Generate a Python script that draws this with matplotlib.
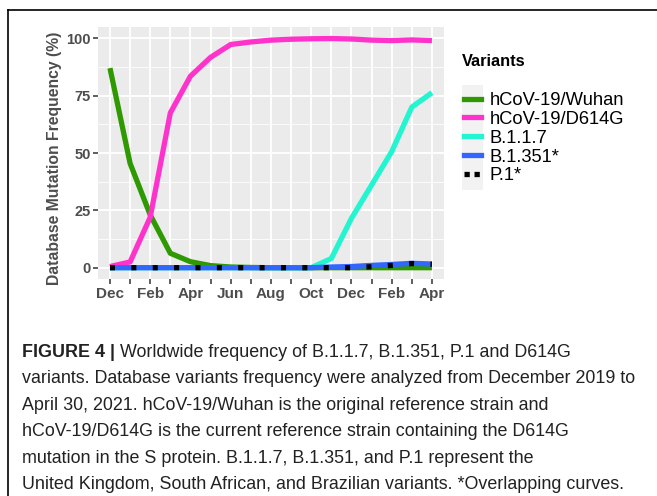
import matplotlib
matplotlib.use("Agg")
import matplotlib.pyplot as plt
from matplotlib.lines import Line2D
from matplotlib import font_manager as fm

months = ["Dec", "Jan", "Feb", "Mar", "Apr", "May", "Jun", "Jul", "Aug",
          "Sep", "Oct", "Nov", "Dec", "Jan", "Feb", "Mar", "Apr"]
tick_labels = [m if i % 2 == 0 else "" for i, m in enumerate(months)]
series_names = ["hCoV-19/Wuhan", "hCoV-19/D614G", "B.1.1.7", "B.1.351*", "P.1*"]
wuhan = [87, 45.5, 23, 6.3, 2.6, 0.9, 0.3, 0.1, 0, 0, 0, 0, 0, 0, 0, 0, 0]
d614g = [0.5, 2.5, 22, 67.5, 83.5, 91.7, 97.3, 98.4, 99.2, 99.6, 99.8, 99.9,
         99.7, 99.2, 99.0, 99.3, 99.0]
b117 = [0, 0, 0, 0, 0, 0, 0, 0, 0, 0, 0, 4, 21.5, 36, 50.6, 70, 76.3]
b1351 = [0, 0, 0, 0, 0, 0, 0, 0, 0, 0, 0, 0.3, 0.5, 1.0, 1.4, 1.9, 1.6]
p1 = [0, 0, 0, 0, 0, 0, 0, 0, 0, 0, 0, 0, 0, 0.4, 1.0, 1.8, 1.5]
y_ticks = [0, 25, 50, 75, 100]

colors = ["#2E9900", "#FF33CC", "#22F5CF", "#3366FF", "#000000"]

avail = {f.name for f in fm.fontManager.ttflist}
base = "Liberation Sans" if "Liberation Sans" in avail else "DejaVu Sans"
narrow = "Liberation Sans Narrow" if "Liberation Sans Narrow" in avail else base
plt.rcParams["font.family"] = [base, "DejaVu Sans"]

W, H = 657, 496
fig = plt.figure(figsize=(W / 100, H / 100), dpi=100)
ax = fig.add_axes([98.3 / W, 1 - 279 / H, (444 - 98.3) / W, (279 - 27.3) / H])
ax.set_facecolor("#EBEBEB")
for s in ax.spines.values():
    s.set_visible(False)

x = list(range(len(months)))
lw = 3.8
ax.plot(x, wuhan, color=colors[0], lw=lw, solid_capstyle="butt", zorder=3)
ax.plot(x, d614g, color=colors[1], lw=lw, solid_capstyle="butt", zorder=3)
ax.plot(x, b117, color=colors[2], lw=lw, solid_capstyle="butt", zorder=3)
ax.plot(x, b1351, color=colors[3], lw=lw, solid_capstyle="butt", zorder=3)
ax.plot(x, p1, color=colors[4], lw=lw, linestyle=(0, (0.95, 3.1)),
        dash_capstyle="butt", zorder=4)

ax.set_xlim(-0.58, 16.6)
ax.set_ylim(-4.93, 104.8)
ax.set_xticks(x)
ax.set_xticklabels(tick_labels, fontsize=11, fontweight="bold", color="#4D4D4D")
ax.set_yticks(y_ticks)
ax.set_yticklabels([str(v) for v in y_ticks], fontsize=10.5, fontweight="bold",
                   color="#4D4D4D")
ax.set_yticks([12.5, 37.5, 62.5, 87.5], minor=True)
ax.tick_params(axis="both", which="major", length=3.5, width=1.1, color="#333333",
               pad=2)
ax.tick_params(axis="y", which="minor", length=0)
ax.grid(True, which="major", color="white", lw=1.3, zorder=0)
ax.grid(True, which="minor", axis="y", color="white", lw=0.6, zorder=0)
ax.set_axisbelow(True)

fig.text(55 / W, 1 - 158 / H, "Database Mutation Frequency (%)", rotation=90,
         ha="center", va="center", fontsize=11.3, fontweight="bold",
         color="#4D4D4D")

handles = [Line2D([0], [0], color=colors[0], lw=lw),
           Line2D([0], [0], color=colors[1], lw=lw),
           Line2D([0], [0], color=colors[2], lw=lw),
           Line2D([0], [0], color=colors[3], lw=lw),
           Line2D([0], [0], color=colors[4], lw=lw, linestyle=(0, (1.0, 0.9)))]
fig.patches.append(plt.Rectangle((462 / W, 1 - 190 / H), 21 / W, 105 / H,
                                 transform=fig.transFigure, facecolor="#F2F2F2",
                                 edgecolor="none"))
leg = fig.legend(handles, series_names, loc="upper left",
                 bbox_to_anchor=(464 / W, 1 - 92 / H), frameon=False,
                 fontsize=13.2, handlelength=0.9, handletextpad=0.5,
                 labelspacing=0.1, borderaxespad=0, borderpad=0)
fig.text(462 / W, 1 - 62 / H, "Variants", ha="left", va="center", fontsize=11.8,
         fontweight="bold", color="black")

# frame
fig.add_artist(Line2D([8 / W, 1], [1 - 10 / H, 1 - 10 / H], color="black", lw=1.2,
                      transform=fig.transFigure))
fig.add_artist(Line2D([8 / W, 8 / W], [0, 1 - 10 / H], color="black", lw=1.2,
                      transform=fig.transFigure))

cap_lines = [
    "Worldwide frequency of B.1.1.7, B.1.351, P.1 and D614G",
    "variants. Database variants frequency were analyzed from December 2019 to",
    "April 30, 2021. hCoV-19/Wuhan is the original reference strain and",
    "hCoV-19/D614G is the current reference strain containing the D614G",
    "mutation in the S protein. B.1.1.7, B.1.351, and P.1 represent the",
    "United Kingdom, South African, and Brazilian variants. *Overlapping curves.",
]
cfs = 12.9
y0 = 357
for i, line in enumerate(cap_lines):
    yy = 1 - (y0 + i * 26.4) / H
    if i == 0:
        t = fig.text(22 / W, yy, "FIGURE 4 | ", ha="left", va="baseline",
                     fontsize=cfs, fontweight="bold", family=[narrow, base],
                     color="#222222")
        fig.canvas.draw()
        bb = t.get_window_extent()
        fig.text(bb.x1 / W, yy, line, ha="left", va="baseline", fontsize=cfs,
                 family=[narrow, base], color="#222222")
    else:
        fig.text(22 / W, yy, line, ha="left", va="baseline", fontsize=cfs,
                 family=[narrow, base], color="#222222")

fig.savefig("out.png", dpi=100)
